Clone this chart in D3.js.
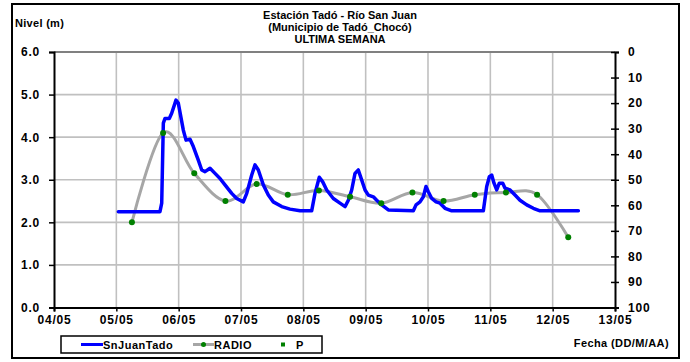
<!DOCTYPE html>
<html><head><meta charset="utf-8">
<script src="https://cdn.jsdelivr.net/npm/d3@7"></script>
<style>
body{margin:0;background:#fff;}
text{font-family:"Liberation Sans",Arial,sans-serif;font-weight:bold;fill:#000;}
</style></head>
<body>
<svg id="c" width="690" height="362"></svg>
<script>
// ---- data ----
const dias = [4,5,6,7,8,9,10,11,12,13];
const etiquetasX = ["04/05","05/05","06/05","07/05","08/05","09/05","10/05","11/05","12/05","13/05"];
const nivelTicks = [0,1,2,3,4,5,6];
const precipTicks = [0,10,20,30,40,50,60,70,80,90,100];
// SnJuanTado (day of May, level m)
const nivelDia = [5.032,5.70,5.728,5.754,5.781,5.850,5.888,5.957,5.994,6.074,6.118,6.182,6.235,6.315,6.370,6.423,6.503,6.583,6.663,6.743,6.851,6.931,7.037,7.092,7.172,7.225,7.278,7.358,7.438,7.518,7.653,7.786,7.947,8.134,8.187,8.256,8.311,8.375,8.481,8.588,8.669,8.722,8.776,8.829,8.882,8.937,8.990,9.043,9.123,9.177,9.257,9.363,9.765,9.808,9.872,9.925,9.968,10.005,10.060,10.129,10.193,10.273,10.381,10.888,10.942,10.984,11.022,11.059,11.102,11.144,11.199,11.236,11.316,11.396,11.476,11.584,11.690,11.797,12.412];
const nivelValor = [2.25,2.25,2.45,4.33,4.44,4.44,4.56,4.87,4.80,4.17,3.93,3.95,3.78,3.46,3.23,3.19,3.27,3.15,3.03,2.88,2.68,2.56,2.48,2.68,3.11,3.35,3.23,2.88,2.64,2.48,2.37,2.31,2.27,2.27,2.68,3.06,2.95,2.76,2.56,2.45,2.37,2.52,2.76,3.15,3.23,2.99,2.76,2.64,2.60,2.52,2.41,2.29,2.27,2.41,2.48,2.60,2.84,2.72,2.56,2.48,2.45,2.33,2.27,2.27,2.84,3.07,3.11,2.92,2.76,2.92,2.92,2.80,2.76,2.64,2.52,2.41,2.33,2.27,2.27];
// RADIO
const radioDia = [5.25,5.75,6.25,6.75,7.25,7.75,8.25,8.75,9.25,9.75,10.25,10.75,11.25,11.75,12.25];
const radioValor = [2.0,4.1,3.15,2.5,2.9,2.65,2.75,2.6,2.45,2.7,2.5,2.65,2.7,2.65,1.65];
// P (precipitación) – no values shown
const precipDia = [];
const precipValor = [];
const titulo = ["Estación Tadó - Río San Juan","(Municipio de Tadó_Chocó)","ULTIMA SEMANA"];

// ---- chart ----
const svg = d3.select("#c");
const L=54, R=615, T=52, B=307.5;
const x = d3.scaleLinear().domain([4,13]).range([L,R]);
const y = d3.scaleLinear().domain([0,6]).range([B,T]);
const yR = d3.scaleLinear().domain([0,100]).range([T,B]);

// outer frame
svg.append("rect").attr("x",12).attr("y",4).attr("width",667).attr("height",354)
  .attr("fill","none").attr("stroke","#000").attr("stroke-width",2);

// grid
svg.append("g").selectAll("line").data(dias.slice(1,-1)).join("line")
  .attr("x1",d=>x(d)).attr("x2",d=>x(d)).attr("y1",T).attr("y2",B)
  .attr("stroke","#c0c0c0").attr("stroke-width",1.6);
svg.append("g").selectAll("line").data(nivelTicks.slice(1,-1)).join("line")
  .attr("x1",L).attr("x2",R).attr("y1",d=>y(d)).attr("y2",d=>y(d))
  .attr("stroke","#c0c0c0").attr("stroke-width",1.6);
svg.append("line").attr("x1",L).attr("x2",R).attr("y1",T).attr("y2",T)
  .attr("stroke","#808080").attr("stroke-width",2);

// axes
const ax = svg.append("g").attr("transform",`translate(0,${B})`)
  .call(d3.axisBottom(x).tickValues(dias).tickFormat((d,i)=>etiquetasX[i]).tickSize(4).tickPadding(4));
const ay = svg.append("g").attr("transform",`translate(${L},0)`)
  .call(d3.axisLeft(y).tickValues(nivelTicks).tickFormat(d3.format(".1f")).tickSize(5).tickPadding(9));
const ar = svg.append("g").attr("transform",`translate(${R},0)`)
  .call(d3.axisRight(yR).tickValues(precipTicks).tickSize(4).tickPadding(9));
ar.selectAll(".tick line").attr("x1",-4);
[ax,ay,ar].forEach(g=>{
  g.select(".domain").attr("stroke","#000").attr("stroke-width",2);
  g.selectAll(".tick line").attr("stroke","#000").attr("stroke-width",1.5);
  g.selectAll("text").attr("font-family","Liberation Sans, Arial, sans-serif")
    .attr("font-weight","bold").attr("font-size",12).style("letter-spacing","0.8px").attr("fill","#000");
});

// RADIO line
const lineR = d3.line().x((d,i)=>x(radioDia[i])).y(d=>y(d)).curve(d3.curveCatmullRom.alpha(0));
svg.append("path").attr("d",lineR(radioValor)).attr("fill","none")
  .attr("stroke","#a6a6a6").attr("stroke-width",3);

// SnJuanTado line
const lineN = d3.line().x((d,i)=>x(nivelDia[i])).y(d=>y(d));
svg.append("path").attr("d",lineN(nivelValor)).attr("fill","none")
  .attr("stroke","#0000ff").attr("stroke-width",3.5).attr("stroke-linejoin","round").attr("stroke-linecap","round");

// RADIO markers
svg.append("g").selectAll("circle").data(radioValor).join("circle")
  .attr("cx",(d,i)=>x(radioDia[i])).attr("cy",d=>y(d)).attr("r",3).attr("fill","#008000");

// P markers
svg.append("g").selectAll("rect").data(precipValor).join("rect")
  .attr("x",(d,i)=>x(precipDia[i])-2).attr("y",d=>yR(d)-2).attr("width",4).attr("height",4).attr("fill","#008000");

// titles
svg.append("g").selectAll("text").data(titulo).join("text")
  .attr("x",340).attr("y",(d,i)=>19+i*12).attr("text-anchor","middle")
  .attr("font-size",11).text(d=>d);
svg.append("text").attr("x",15).attr("y",27).attr("font-size",11).style("letter-spacing","0.3px").text("Nivel (m)");
svg.append("text").attr("x",669).attr("y",347).attr("text-anchor","end").attr("font-size",11)
  .style("letter-spacing","0.4px").text("Fecha (DD/M/AA)");

// clipped right-axis title
svg.append("clipPath").attr("id","rc").append("rect").attr("x",665).attr("y",30).attr("width",12).attr("height",100);
svg.append("text").attr("clip-path","url(#rc)")
  .attr("transform","translate(678,42) rotate(-90)").attr("text-anchor","end")
  .attr("font-size",8).text("Precipitación (mm)");

// legend
const lg = svg.append("g");
lg.append("rect").attr("x",61).attr("y",336).attr("width",261).attr("height",17)
  .attr("fill","#fff").attr("stroke","#000").attr("stroke-width",1.5);
lg.append("line").attr("x1",81).attr("x2",103).attr("y1",344.5).attr("y2",344.5).attr("stroke","#0000ff").attr("stroke-width",3);
lg.append("text").attr("x",103).attr("y",349).attr("font-size",11).style("letter-spacing","0.5px").text("SnJuanTado");
lg.append("line").attr("x1",193).attr("x2",214).attr("y1",344.5).attr("y2",344.5).attr("stroke","#a6a6a6").attr("stroke-width",3);
lg.append("circle").attr("cx",203.5).attr("cy",344.5).attr("r",2.5).attr("fill","#008000");
lg.append("text").attr("x",214).attr("y",349).attr("font-size",11).style("letter-spacing","0.5px").text("RADIO");
lg.append("rect").attr("x",281).attr("y",342.5).attr("width",4).attr("height",4).attr("fill","#008000");
lg.append("text").attr("x",296).attr("y",349).attr("font-size",11).text("P");
</script>
</body></html>
